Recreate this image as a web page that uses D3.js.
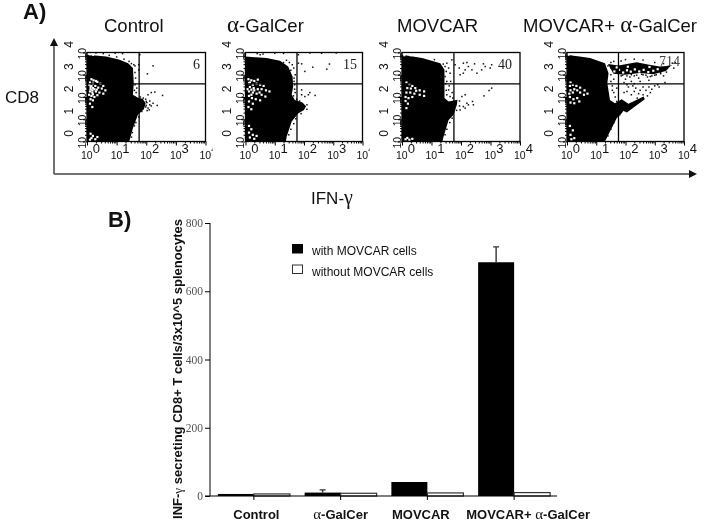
<!DOCTYPE html>
<html>
<head>
<meta charset="utf-8">
<style>
	html, body { margin: 0; padding: 0; background: #fff; }
	svg { display: block; filter: blur(0.35px); }
	text { font-family: "Liberation Sans", Arial, sans-serif; fill: #111; }
</style>
<title>IFN-gamma</title>
</head>
<body>
<svg id="fig" width="705" height="521"></svg>
<script src="https://cdn.jsdelivr.net/npm/d3@7"></script>
<script>

// flow panels: everything is in decades (log10 of the fluorescence)
var panelTitles = ["Control", "α-GalCer", "MOVCAR", "MOVCAR+ α-GalCer"];
var panelCounts = ["6", "15", "40", "714"];
var decades = [0, 1, 2, 3, 4];
var gateX = 1.76;
var gateY = 2.59;

var cloudControl = [[0,3.9],[.65,3.82],[1.1,3.67],[1.39,3.52],[1.55,3.3],[1.58,2.62],[1.55,2.1],[1.72,1.97],[1.88,1.92],[1.98,1.72],[1.92,1.45],[1.72,1.2],[1.55,.6],[1.44,.07],[1.42,0],[0,0]];
var cloudGalcer = [[0,3.82],[.72,3.75],[1.18,3.63],[1.46,3.37],[1.61,2.92],[1.63,2.47],[1.58,2.1],[1.69,1.87],[1.95,1.75],[2.07,1.58],[2,1.42],[1.81,1.27],[1.58,.9],[1.41,.22],[1.38,0],[0,0]];
var cloudMovcar = [[0,3.9],[.68,3.75],[1.3,3.52],[1.44,3.22],[1.44,1.95],[1.58,1.8],[1.88,1.88],[1.86,1.65],[1.75,1.2],[1.58,.97],[1.41,.22],[1.37,0],[0,0]];
var cloudBoth = [[0,3.9],[.79,3.75],[1.3,3.52],[1.42,3.07],[1.38,2.62],[1.47,1.87],[1.64,1.72],[1.87,1.9],[2.1,1.7],[1.87,1.27],[1.7,1.05],[1.47,.45],[1.3,0],[0,0]];
var bandBoth = [[1.4,3.48],[1.76,3.42],[2.38,3.56],[2.72,3.47],[3.17,3.37],[3.55,3.4],[3.38,3.17],[2.95,3.02],[2.49,3.08],[1.98,3],[1.59,3.05]];
var streakBoth = [[1.8,1.45],[2.1,1.7],[2.62,2.02],[2.66,1.9],[2.3,1.55],[2.05,1.3]];

var dotsControl = [[1.78,3.9],[1.75,3.45],[1.75,3.22],[2.04,3.04],[2.23,3.4],[2.17,2.2],[2.29,2.22],[2.06,2.1],[1.98,1.9],[2.55,2.07],[2.12,1.65],[2.06,1.5],[2.17,1.6],[2.37,1.62],[2.23,1.72],[2.03,1.39],[1.98,1.55],[2.1,1.42],[2.02,1.75],[2.12,1.82],[.3,3.98],[.55,3.95],[.95,3.97],[1.2,3.95],[1.62,3.4],[1.68,2.4],[1.66,2.2],
	[1.58,3.45],[1.5,3.5],[1.42,3.6],[1.25,3.7],[1,3.8],[.75,3.87],[1.62,3.1],[1.64,2.85],[1.62,2.55],[1.6,2.3],[1.62,2],[1.8,2],[1.9,1.95],[2,1.8],[2,1.62],[1.85,1.35],[1.75,1.1],[1.65,.85],[1.6,.7],[1.53,.4],[1.5,.2]];
var dotsGalcer = [[1.81,3.52],[1.92,3.49],[2.03,3.15],[2.3,3.34],[2.78,3.25],[2.87,3.48],[1.81,3.9],[2.2,3.98],[1.92,2.1],[2.15,2.1],[2.2,2.2],[2.38,2.07],[1.92,2.32],[2.03,2.02],[1.65,3.3],[1.7,3],[1.66,2.7],[1.7,2.2],[1.68,2.55],[1.6,3.45],[1.5,3.55],[1.4,3.65],[.4,3.95],[.5,3.9],[.6,3.93],[1,3.97],[1.3,3.96],[2.6,3.97],[3.1,3.98],
	[1.3,3.55],[1.55,3.2],[1.66,2.85],[1.68,2.35],[1.64,2.05],[1.75,1.9],[1.85,1.82],[2.1,1.65],[2.1,1.45],[1.9,1.25],[1.72,1.02],[1.65,.8],[1.55,.55],[1.48,.3]];
var dotsMovcar = [[1.8,3.45],[1.94,3.3],[2.08,3.52],[2.2,3.55],[2.25,3.37],[2.37,3.22],[2.08,3.07],[1.97,3],[2.54,3.07],[2.76,3.49],[2.82,3.37],[2.7,3.22],[2.99,3.3],[3.04,3.45],[2.46,3.49],[2.14,3.22],[1.52,3.52],[1.58,3.3],[1.63,3.07],[1.46,2.92],[1.52,2.7],[1.58,2.32],[1.52,2.1],[1.63,2.02],[1.46,3.37],[1.69,3.67],[2.14,2.1],[2.03,2.02],[2.2,1.72],[2.08,1.57],[1.97,1.42],[2.25,1.65],[2.39,1.8],[2.42,1.65],[2.14,1.5],[3.04,2.4],[2.95,2.29],[2.78,2.05],[1.8,1.57],[1.65,2.7],[1.7,2.2],[1.6,2.5],
	[1.4,3.48],[1.5,3.15],[1.48,2.6],[1.5,2.3],[1.72,1.95],[1.95,1.82],[1.95,1.6],[1.85,1.4],[1.7,1.05],[1.62,.85],[1.52,.55],[1.46,.3],[1.1,3.68]];
var dotsBoth = [[2.1,2.45],[2.25,2.5],[2.35,2.4],[2.5,2.3],[2.6,2.45],[2.3,2.25],[2.45,2.15],[2.7,2.3],[2.8,2.45],[2.9,2.35],[3,2.5],[3.1,2.55],[3.15,2.45],[2.6,2.1],[2.4,1.95],[2.75,2.05],[2.2,2.1],[2.05,2.25],[1.95,2.2],[2.55,1.9],[2.85,2.2],[1.85,2.95],[2,2.8],[2.15,2.9],[2.3,2.95],[2.45,2.85],[2.6,3],[2.75,2.9],[2.9,2.95],[3.05,3],[3.2,3.05],[3.35,2.65],[3.3,2.95],[1.95,2.65],[2.2,2.7],[2.5,2.7],[2.8,2.75],[1.5,3],[1.6,2.8],[1.55,2.5],[1.6,2.2],[1.7,2.4],[1.65,2],[1.6,3.6],[1.85,3.62],[2,3.68],[2.3,3.7],[2.6,3.66],[3,3.55],[3.3,3.5],[3.6,3.52],[3.7,3.55],[3.65,3.3],[1.7,1.8],[2.3,2.6],[2.05,2.55],
	[1.9,2.98],[2.05,2.95],[2.2,3],[2.38,2.98],[2.55,3.02],[2.7,2.98],[2.85,2.92],[3,2.98],[3.2,3.1],[3.4,3.12],[1.5,3.3],[1.5,2.7],[1.55,2.3],[1.95,1.55],[1.8,1.2],[1.6,.85],[1.5,.55],[1.4,.25],[1.5,3.55],[1.4,3.4]];
var holesBand = [[1.62,3.15],[1.78,3.22],[1.92,3.1],[2.05,3.2],[2.18,3.14],[2.32,3.24],[2.47,3.15],[2.62,3.22],[2.78,3.12],[2.95,3.18],[3.1,3.25],[1.7,3.33],[2.08,3.36],[2.82,3.35]];

var holesControl = [[.15,2.8],[.22,2.75],[.3,2.72],[.1,2.65],[.2,2.6],[.35,2.68],[.45,2.6],[.55,2.5],[.12,2.45],[.2,2.4],[.28,2.5],[.38,2.42],[.5,2.38],[.62,2.3],[.1,2.25],[.18,2.2],[.3,2.25],[.42,2.2],[.55,2.15],[.15,2.05],[.25,2],[.35,2.08],[.12,1.9],[.2,1.85],[.1,1.7],[.18,1.55],[.12,.35],[.2,.25],[.15,.15],[.28,.1],[.1,.08],[.35,.2],[.15,2.5],[.25,2.35],[.12,2.35],[.2,2.12],[.1,3.92],[.2,3.9],[.7,3.9],[.85,3.85],[.08,2.55],[.18,2.3],[.33,2.33],[.07,2.1]];
var holesGalcer = [[.1,2.8],[.2,2.75],[.3,2.72],[.42,2.78],[.12,2.62],[.25,2.55],[.38,2.6],[.5,2.55],[.62,2.5],[.15,2.45],[.28,2.4],[.42,2.35],[.55,2.35],[.7,2.3],[.82,2.25],[.12,2.25],[.25,2.2],[.38,2.15],[.55,2.1],[.68,2.02],[.12,2.05],[.22,1.95],[.35,1.9],[.5,1.85],[.12,1.8],[.25,1.7],[.1,1.55],[.2,1.45],[.12,.7],[.2,.55],[.12,.4],[.25,.3],[.15,.18],[.3,.12],[.38,.25],[.15,2.65],[.3,2.3],[.2,2.1],[.05,3.9],[.3,3.93],[.6,3.88],[1,3.8],[.07,2.35],[.2,2.33],[.48,2.2]];
var holesMovcar = [[.15,2.65],[.25,2.58],[.35,2.5],[.18,2.4],[.3,2.38],[.45,2.4],[.6,2.3],[.75,2.25],[.15,2.2],[.28,2.2],[.42,2.15],[.6,2.1],[.12,2],[.22,1.95],[.35,2],[.12,1.82],[.2,1.7],[.15,1.5],[.12,.1],[.25,.08],[.35,.12],[.18,.16],[.08,3.88],[.3,3.88],[.75,2.05],[.48,2.28]];
var holesBoth = [[.1,2.5],[.2,2.55],[.32,2.5],[.45,2.42],[.6,2.3],[.12,2.3],[.08,2.15],[.2,2.2],[.45,2.2],[.58,2.1],[.1,2],[.22,1.9],[.35,1.95],[.12,1.75],[.25,1.72],[.42,1.8],[.1,.7],[.2,.5],[.12,.3],[.25,.15],[.15,.1],[.25,2.35],[.35,2.3],[.12,2.65],[.05,3.9],[.25,3.92],[.7,2.15]];

var clouds = [[cloudControl], [cloudGalcer], [cloudMovcar], [cloudBoth, bandBoth, streakBoth]];
var dots = [dotsControl, dotsGalcer, dotsMovcar, dotsBoth];
var holes = [holesControl, holesGalcer, holesMovcar, holesBoth.concat(holesBand)];

// bar chart
var groups = ["Control", "α-GalCer", "MOVCAR", "MOVCAR+ α-GalCer"];
var keys = ["with MOVCAR cells", "without MOVCAR cells"];
var withCells = [6, 10, 41, 685];
var withoutCells = [6, 8, 9, 10];
var errorTop = [null, 18, null, 730];
var yTicks = [0, 200, 400, 600, 800];

var panelLeft = [87, 245.5, 402, 567];
var panelRight = [205.5, 362.5, 520, 684];
var titleLeft = [104, 227, 397, 523];
var countRight = [200, 357, 512, 680];
var labelShift = [2.5, 0, -6.5, 14];

var svg = d3.select("#fig");

function greek(sel, str, bump) {
	str.split(/([αγ])/).forEach(function(part) {
		if (!part) return;
		var t = sel.append("tspan").text(part);
		if (part == "α" || part == "γ") {
			t.style("font-family", "'Liberation Serif', serif").style("font-weight", "normal");
			if (bump) t.style("font-size", bump);
		}
	});
}

// big arrows round the flow plots
svg.append("path").attr("d", "M54,174V44M54,174H690").attr("fill", "none").attr("stroke", "#444").attr("stroke-width", 1.5);
svg.append("path").attr("d", "M54,38l-4,8h8z").attr("fill", "#111");
svg.append("path").attr("d", "M697,174l-8,-4v8z").attr("fill", "#111");

svg.append("text").text("A)").attr("x", 23).attr("y", 19).style("font-size", "22px").style("font-weight", "bold");
svg.append("text").text("B)").attr("x", 108).attr("y", 227).style("font-size", "22px").style("font-weight", "bold");
svg.append("text").text("CD8").attr("x", 5).attr("y", 103).style("font-size", "17px");
greek(svg.append("text").attr("x", 311).attr("y", 204).style("font-size", "17px"), "IFN-γ", "20px");

var top0 = 52.5, bottom0 = 141.5;

panelTitles.forEach(function(title, i) {
	var x = d3.scaleLinear().domain([0, 4]).range([panelLeft[i], panelRight[i]]);
	var y = d3.scaleLinear().domain([0, 4]).range([bottom0, top0]);
	var xLog = d3.scaleLog().domain([1, 10000]).range(x.range());
	var yLog = d3.scaleLog().domain([1, 10000]).range(y.range());
	var line = d3.line().x(d => x(d[0])).y(d => y(d[1]));
	var g = svg.append("g");

	greek(g.append("text").attr("x", titleLeft[i]).attr("y", 32).style("font-size", "18.5px"), title, "23px");

	g.selectAll(".cloud").data(clouds[i]).enter().append("path")
		.attr("class", "cloud")
		.attr("d", d => line(d) + "Z")
		.attr("fill", "#000");

	g.selectAll(".hole").data(holes[i]).enter().append("rect")
		.attr("class", "hole")
		.attr("x", d => x(d[0]) - 1.1)
		.attr("y", d => y(d[1]) - 1.1)
		.attr("width", 2.2).attr("height", 2.2)
		.attr("fill", "#fff");

	g.selectAll(".dot").data(dots[i]).enter().append("rect")
		.attr("class", "dot")
		.attr("x", d => x(d[0]) - .75)
		.attr("y", d => y(d[1]) - .75)
		.attr("width", 1.5).attr("height", 1.5)
		.attr("fill", "#111");

	// frame and gates
	g.append("rect")
		.attr("x", x(0)).attr("y", y(4))
		.attr("width", x(4) - x(0)).attr("height", y(0) - y(4))
		.attr("fill", "none").attr("stroke", "#000").attr("stroke-width", 1.3);
	g.append("line").attr("x1", x(gateX)).attr("x2", x(gateX)).attr("y1", y(0)).attr("y2", y(4)).attr("stroke", "#000").attr("stroke-width", 1.3);
	g.append("line").attr("x1", x(0)).attr("x2", x(4)).attr("y1", y(gateY)).attr("y2", y(gateY)).attr("stroke", "#000").attr("stroke-width", 1.3);

	g.append("text").text(panelCounts[i])
		.attr("x", countRight[i]).attr("y", i == 3 ? 66 : 69)
		.attr("text-anchor", "end")
		.style("font-family", "'Liberation Serif', serif")
		.style("font-size", "14px")
		.style("fill", i == 3 ? "#444" : "#222");

	// axes, major ticks then the small log ones
	var minor = xLog.ticks().filter(d => !decades.includes(Math.log10(d)));
	var major = decades.map(d => Math.pow(10, d));
	var xAxis = g.append("g").attr("transform", "translate(0," + bottom0 + ")");
	xAxis.call(d3.axisBottom(xLog).tickValues(minor).tickSize(2).tickFormat(""));
	xAxis.append("g").call(d3.axisBottom(xLog).tickValues(major).tickSize(4).tickFormat(""));
	var yAxis = g.append("g").attr("transform", "translate(" + panelLeft[i] + ",0)");
	yAxis.call(d3.axisLeft(yLog).tickValues(minor).tickSize(2).tickFormat(""));
	yAxis.append("g").call(d3.axisLeft(yLog).tickValues(major).tickSize(4).tickFormat(""));
	g.selectAll(".domain").remove();

	decades.forEach(function(d) {
		var xt = g.append("text").attr("x", x(d) - 6).attr("y", 159).style("font-size", "10.5px").text("10");
		xt.append("tspan").text(d).attr("dy", -6).style("font-size", "13px");
		var yt = g.append("text")
			.attr("transform", "translate(" + (panelLeft[i] - 1.5) + "," + (y(d) + 7) + ") rotate(-90)")
			.style("font-size", "10.5px").text("10");
		yt.append("tspan").text(d).attr("dy", -13).style("font-size", "12px");
	});

	// the next picture cuts off the last exponent in the two left panels
	if (i < 2) g.append("rect").attr("x", x(4) + 7).attr("y", 143).attr("width", 10).attr("height", 18).attr("fill", "#fff");
});

// part B
var bx = d3.scaleBand().domain(groups).range([210.5, 557.5]).paddingInner(.17).paddingOuter(.085);
var bx1 = d3.scaleBand().domain(keys).range([0, bx.bandwidth()]);
var by = d3.scaleLinear().domain([0, 800]).range([496, 223]);
var chart = svg.append("g");

chart.append("g")
	.attr("transform", "translate(210,0)")
	.call(d3.axisLeft(by).tickValues(yTicks).tickSize(5).tickFormat(d3.format("d")))
	.call(a => a.selectAll("text").style("font-family", "'Liberation Serif', serif").style("font-size", "11.5px").style("fill", "#555").attr("dx", 1))
	.call(a => a.select(".domain").remove());
chart.append("line").attr("x1", 210).attr("x2", 210).attr("y1", by(800)).attr("y2", by(0)).attr("stroke", "#000").attr("stroke-width", 1);

chart.selectAll(".with").data(withCells).enter().append("rect")
	.attr("class", "with")
	.attr("x", (d, i) => bx(groups[i]) + bx1(keys[0]))
	.attr("y", d => by(d))
	.attr("width", bx1.bandwidth())
	.attr("height", d => by(0) - by(d))
	.attr("fill", "#000");

chart.selectAll(".without").data(withoutCells).enter().append("rect")
	.attr("class", "without")
	.attr("x", (d, i) => bx(groups[i]) + bx1(keys[1]))
	.attr("y", d => by(d))
	.attr("width", bx1.bandwidth())
	.attr("height", d => by(0) - by(d))
	.attr("fill", "#fff")
	.attr("stroke", "#333")
	.attr("stroke-width", 1.2);

var errs = chart.selectAll(".err").data(errorTop).enter().append("g").attr("class", "err")
	.filter(d => d != null);
errs.append("path")
	.attr("d", function(d) {
		var i = errorTop.indexOf(d);
		var c = bx(groups[i]) + bx1(keys[0]) + bx1.bandwidth() / 2;
		return "M" + c + "," + by(withCells[i]) + "V" + by(d) + "M" + (c - 3) + "," + by(d) + "H" + (c + 3);
	})
	.attr("fill", "none").attr("stroke", "#333").attr("stroke-width", 1.4);

chart.append("line").attr("x1", 205).attr("x2", 557).attr("y1", by(0)).attr("y2", by(0)).attr("stroke", "#000").attr("stroke-width", 1.2);

groups.forEach(function(name, i) {
	var t = chart.append("text").attr("x", bx(name) + bx.bandwidth() / 2 + labelShift[i]).attr("y", 519)
		.attr("text-anchor", "middle").style("font-size", "13px").style("font-weight", "bold");
	greek(t, name, "15px");
	chart.append("line")
		.attr("x1", bx(name) + bx.bandwidth() / 2).attr("x2", bx(name) + bx.bandwidth() / 2)
		.attr("y1", by(0)).attr("y2", by(0) + 4).attr("stroke", "#000");
});

var yLabel = chart.append("text")
	.attr("transform", "translate(182,369) rotate(-90)")
	.attr("text-anchor", "middle")
	.style("font-size", "13px").style("font-weight", "bold");
greek(yLabel, "INF-γ secreting CD8+ T cells/3x10^5 splenocytes");

keys.forEach(function(k, i) {
	chart.append("rect")
		.attr("x", 292.5).attr("y", 244.5 + i * 20.5)
		.attr("width", 10).attr("height", 8.5)
		.attr("fill", i == 0 ? "#000" : "#fff")
		.attr("stroke", i == 0 ? "#000" : "#333");
	chart.append("text").text(k)
		.attr("x", 312).attr("y", 255 + i * 20.5)
		.style("font-size", "12px");
});

</script>
</body>
</html>
